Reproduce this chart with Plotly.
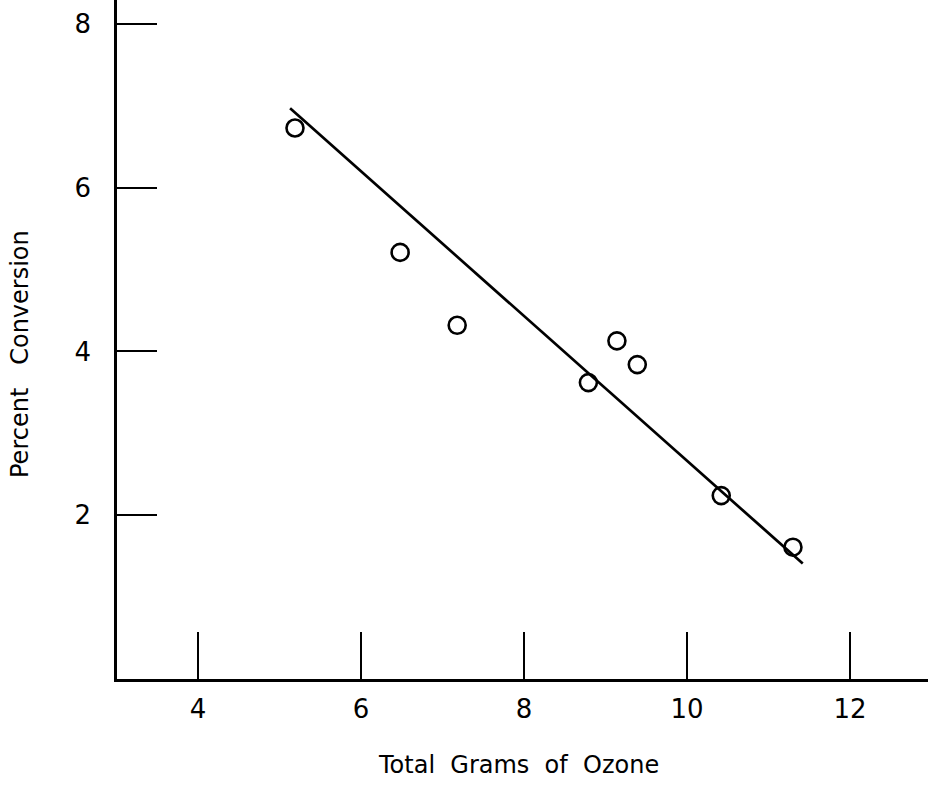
import plotly.graph_objects as go

# Data
ozone_g = [5.19, 6.48, 7.18, 8.79, 9.14, 9.39, 10.42, 11.30]
conversion_pct = [6.73, 5.21, 4.32, 3.62, 4.13, 3.84, 2.24, 1.61]
fit_x = [5.13, 11.42]
fit_y = [6.97, 1.41]
x_ticks = [4, 6, 8, 10, 12]
y_ticks = [2, 4, 6, 8]

FONT = "DejaVu Sans"
SP = "\u00a0\u00a0"

fig = go.Figure()
fig.add_trace(go.Scatter(x=fit_x, y=fit_y, mode="lines",
                         line=dict(color="black", width=2.7), showlegend=False))
fig.add_trace(go.Scatter(x=ozone_g, y=conversion_pct, mode="markers",
                         marker=dict(symbol="circle-open", size=17, color="black",
                                     line=dict(width=2.6, color="black")),
                         showlegend=False))

fig.update_layout(
    width=928, height=795,
    margin=dict(l=117, r=0, t=0, b=116),
    paper_bgcolor="white", plot_bgcolor="white",
    font=dict(family=FONT, color="black", size=26),
    xaxis=dict(range=[3.006, 12.957], tickvals=x_ticks, ticktext=[str(v) for v in x_ticks],
               ticks="inside", ticklen=47, tickwidth=2.4, tickcolor="black",
               showline=True, linecolor="black", linewidth=2.6, showgrid=False,
               zeroline=False, ticklabelstandoff=5, tickfont=dict(size=26)),
    yaxis=dict(range=[0, 8.293], tickvals=y_ticks, ticktext=[str(v) for v in y_ticks],
               ticks="inside", ticklen=40, tickwidth=2.4, tickcolor="black",
               showline=True, linecolor="black", linewidth=2.6, showgrid=False,
               zeroline=False, ticklabelstandoff=18, tickfont=dict(size=26)),
    annotations=[
        dict(text=SP.join(["Total", "Grams", "of", "Ozone"]), xref="paper", yref="paper",
             x=(518 - 117) / 811, y=-(765 - 679) / 679, showarrow=False,
             xanchor="center", yanchor="middle", font=dict(size=24)),
        dict(text="\u00a0\u00a0\u00a0".join(["Percent", "Conversion"]), xref="paper", yref="paper",
             x=-(117 - 20) / 811, y=(679 - 354) / 679, showarrow=False, textangle=-90,
             xanchor="center", yanchor="middle", font=dict(size=24)),
    ],
)

fig.write_html("out.html")
